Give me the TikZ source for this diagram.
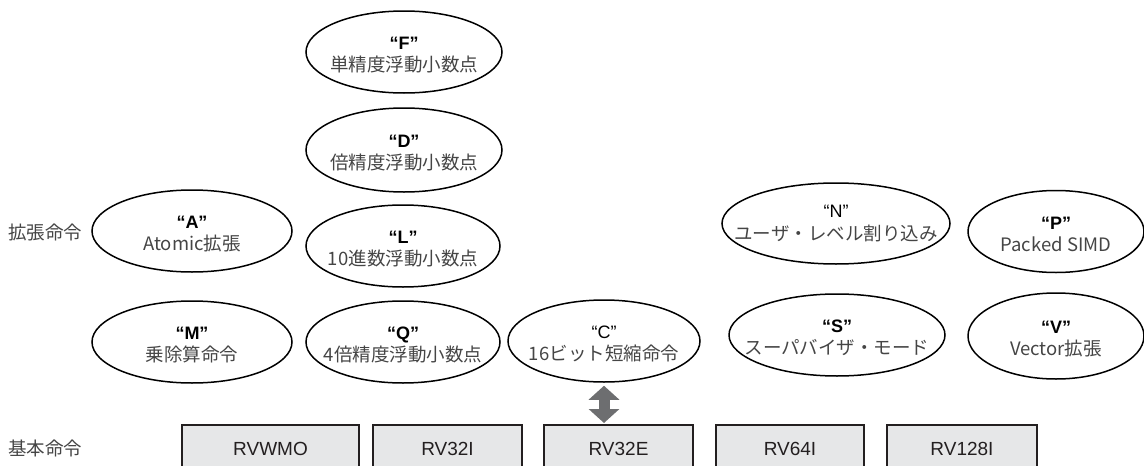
\documentclass[tikz,border=0pt]{standalone}
\usepackage{fontspec}
\setmainfont{Liberation Sans}
\newfontfamily\cjk{Noto Sans CJK JP}
\usetikzlibrary{shapes.geometric,arrows.meta}
\definecolor{boxfill}{HTML}{E6E7E8}
\definecolor{boxline}{HTML}{231F20}
\definecolor{txtgray}{HTML}{454545}
\definecolor{arrgray}{HTML}{6D6E70}
\newcommand{\elltxt}[3][\bfseries]{{#1\color{black}“#2”}\\{\fontsize{18.5}{23}\selectfont\cjk\color{txtgray}#3}}
\begin{document}
\begin{tikzpicture}[x=1pt,y=-1pt,
  ell/.style={draw=black,line width=1.5pt,ellipse,inner sep=0pt},
  lbl/.style={align=center,inner sep=0pt,font=\fontsize{18}{22.5}\selectfont,yshift=-3pt},
  basebox/.style={draw=boxline,fill=boxfill,line width=1.6pt,anchor=north,minimum height=48pt,inner sep=0pt,
    font=\fontsize{19}{22}\selectfont,text=boxline},
  side/.style={anchor=west,inner sep=0pt,font=\cjk\fontsize{18.5}{22}\selectfont,text=txtgray},
  dblarrow/.style={draw=arrgray,line width=11pt,{Triangle[width=30pt,length=14pt]}-{Triangle[width=30pt,length=14pt]},shorten <=3pt,shorten >=1pt}]
\useasboundingbox (0,0) rectangle (1144,466);
\clip (0,0) rectangle (1144,466);
% ellipses
\node[ell,minimum width=196pt,minimum height=82pt] (F) at (404,52) {};
\node[ell,minimum width=196pt,minimum height=84pt] (D) at (404,150) {};
\node[ell,minimum width=194pt,minimum height=82pt] (L) at (403,246) {};
\node[ell,minimum width=200pt,minimum height=82pt] (A) at (192,231) {};
\node[ell,minimum width=200pt,minimum height=82pt] (M) at (192,342) {};
\node[ell,minimum width=194pt,minimum height=82pt] (Q) at (403,342) {};
\node[ell,minimum width=192pt,minimum height=82pt] (C) at (604,341) {};
\node[ell,minimum width=228pt,minimum height=81pt] (N) at (836,223.5) {};
\node[ell,minimum width=176pt,minimum height=82pt] (P) at (1056,231.5) {};
\node[ell,minimum width=216pt,minimum height=82pt] (S) at (837,335) {};
\node[ell,minimum width=176pt,minimum height=86pt] (V) at (1056,336) {};
% texts
\node[lbl] (Ft) at (F) {\elltxt{F}{単精度浮動小数点}};
\node[lbl] (Dt) at (D) {\elltxt{D}{倍精度浮動小数点}};
\node[lbl] (Lt) at (L) {\elltxt{L}{10進数浮動小数点}};
\node[lbl] (At) at (A) {\elltxt{A}{Atomic拡張}};
\node[lbl] (Mt) at (M) {\elltxt{M}{乗除算命令}};
\node[lbl] (Qt) at (Q) {\elltxt{Q}{4倍精度浮動小数点}};
\node[lbl] (Ct) at (C) {\elltxt[\mdseries]{C}{16ビット短縮命令}};
\node[lbl,yshift=3pt] (Nt) at (N) {\elltxt[\mdseries]{N}{ユーザ・レベル割り込み}};
\node[lbl] (Pt) at (P) {\elltxt{P}{Packed SIMD}};
\node[lbl] (St) at (S) {\elltxt{S}{スーパバイザ・モード}};
\node[lbl] (Vt) at (V) {\elltxt{V}{Vector拡張}};
% side labels
\node[side] (ext) at (8,232) {拡張命令};
\node[side] (base) at (8,448) {基本命令};
% base boxes
\node[basebox,minimum width=177pt] (RVWMO) at (270.5,424) {RVWMO};
\node[basebox,minimum width=149pt] (RV32I) at (447.5,424) {RV32I};
\node[basebox,minimum width=149pt] (RV32E) at (618.5,424) {RV32E};
\node[basebox,minimum width=148pt] (RV64I) at (790,424) {RV64I};
\node[basebox,minimum width=150pt] (RV128I) at (962,424) {RV128I};
% arrow
\draw[dblarrow] (C.south) -- (C.south |- RV32E.north);
\end{tikzpicture}
\end{document}
